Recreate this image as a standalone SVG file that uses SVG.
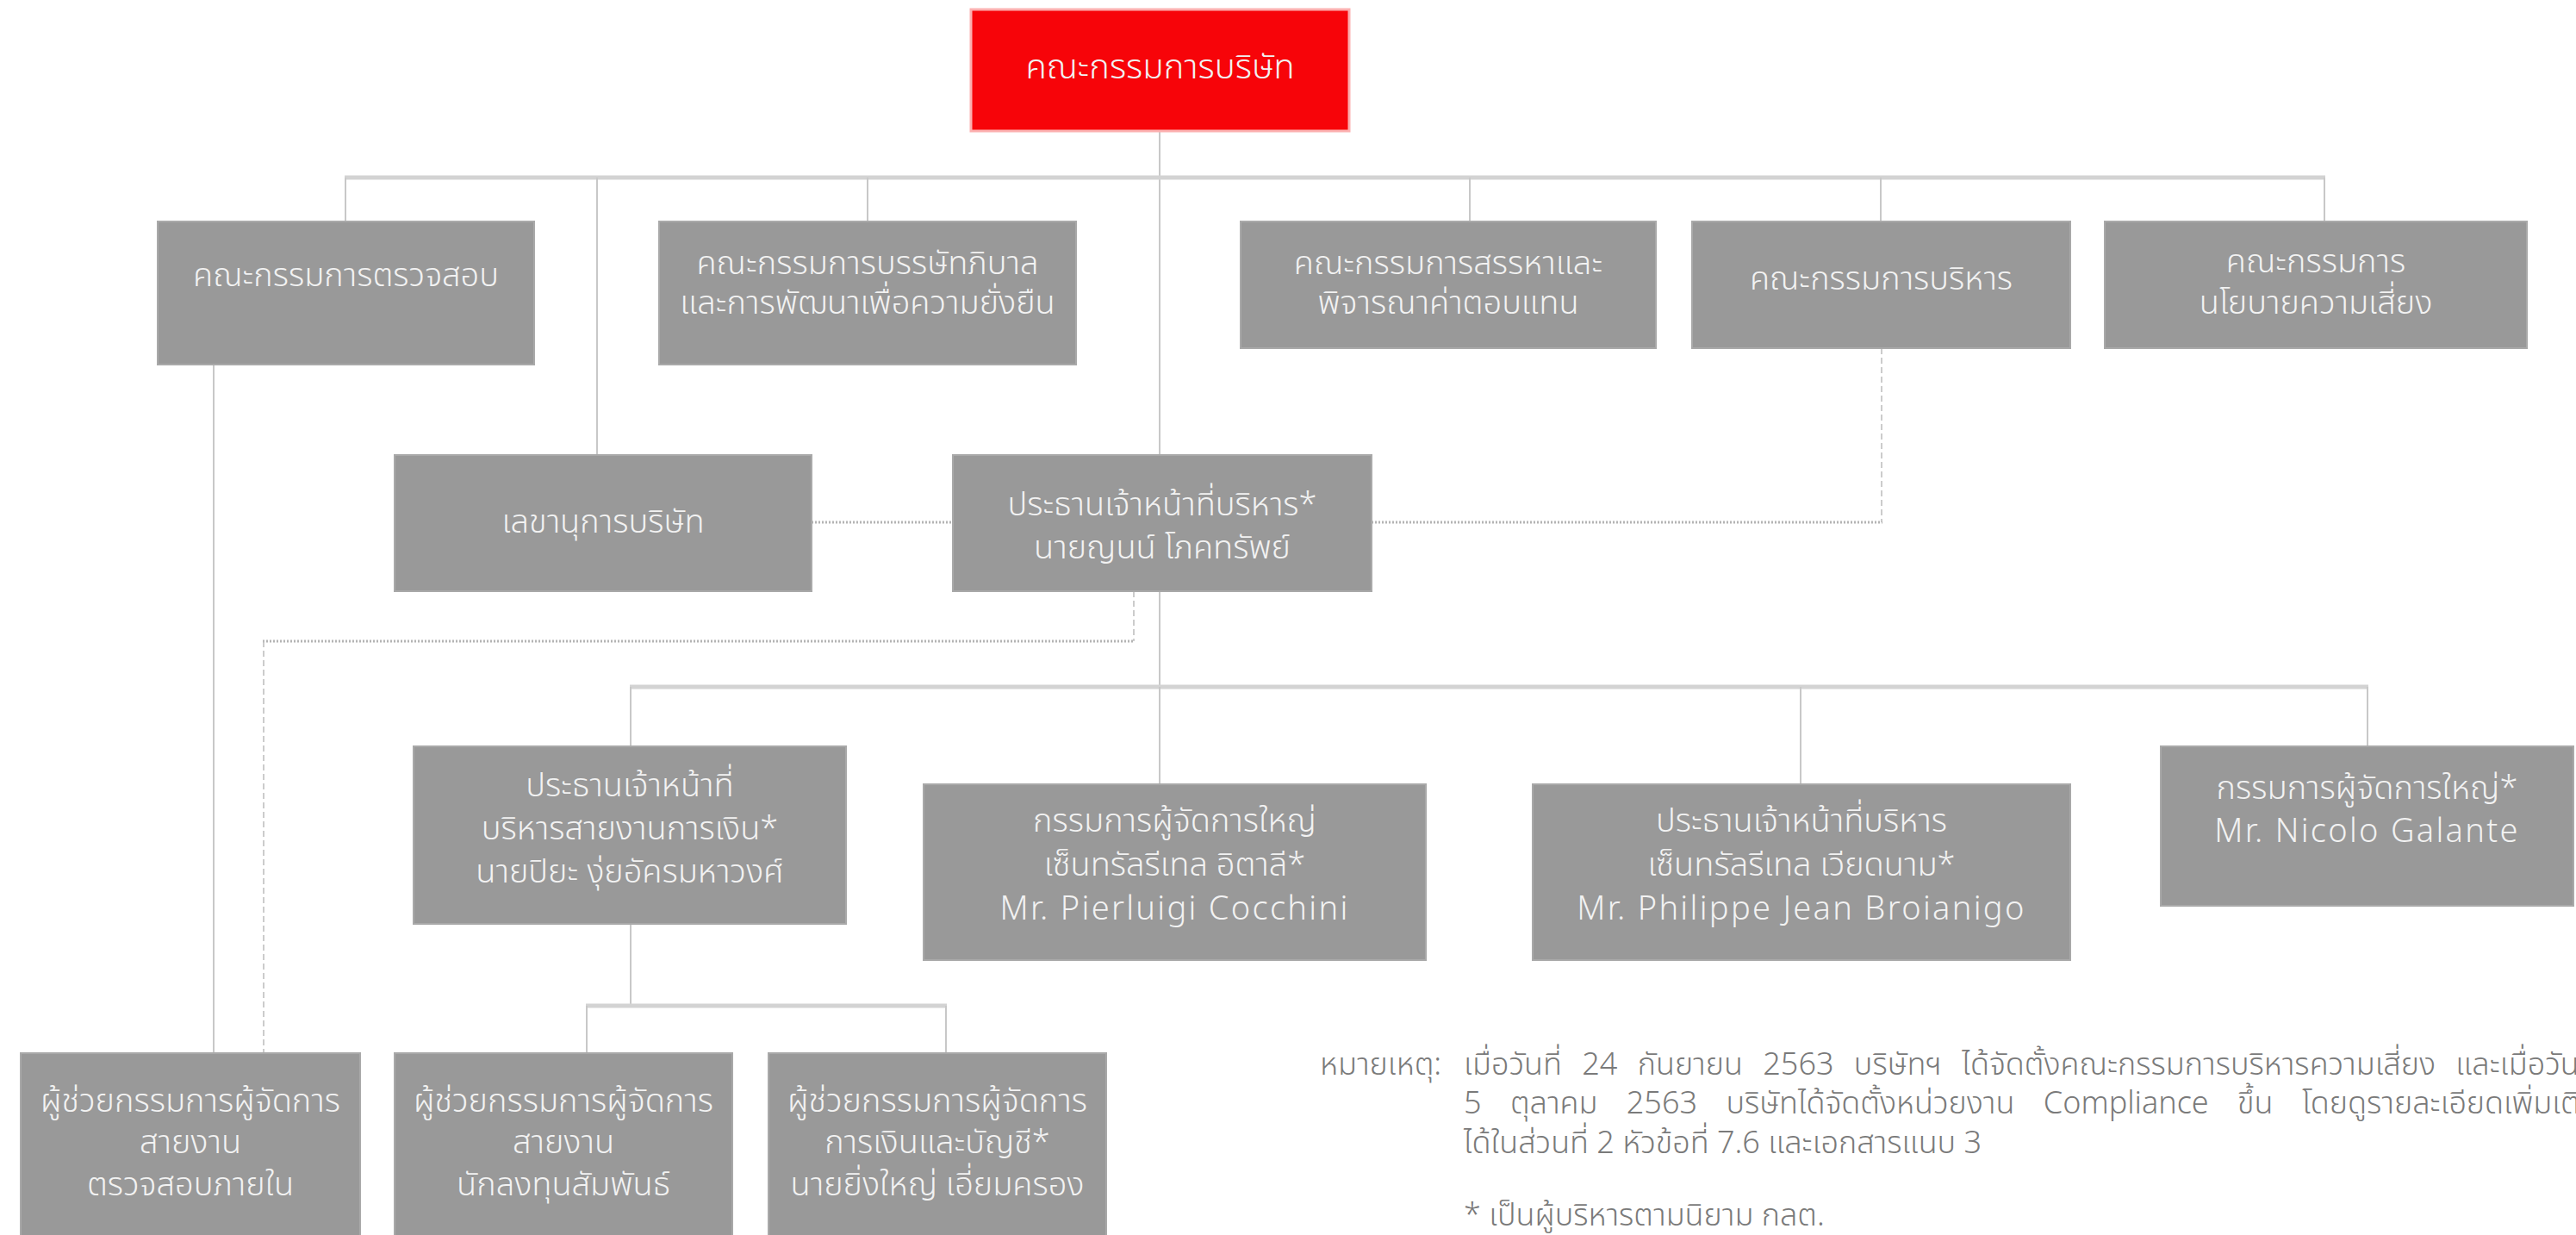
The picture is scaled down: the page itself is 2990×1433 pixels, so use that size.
<svg xmlns="http://www.w3.org/2000/svg" width="2990" height="1433" viewBox="0 0 2990 1433">
<style>
.box{fill:#999999;stroke:#a9a9a9;stroke-width:2}
.red{fill:#f70409;stroke:#fcb0b0;stroke-width:3}
.t{font-family:"Noto Sans Thai","Noto Sans","DejaVu Sans",sans-serif;font-size:38px;fill:#f2f2f2;text-anchor:middle;dominant-baseline:central;font-weight:300}
.lat{letter-spacing:2.3px}
.big{font-size:40px}
.note{font-family:"Noto Sans Thai","Noto Sans","DejaVu Sans",sans-serif;font-size:36px;fill:#7a7a7a;dominant-baseline:central;font-weight:300}
.ln{stroke:#c8c8c8;stroke-width:2;fill:none}
.hl{stroke:#d3d3d3;stroke-width:5;fill:none}
.dot{stroke:#b4b4b4;stroke-width:3;stroke-dasharray:2 2;fill:none}
.dash{stroke:#bcbcbc;stroke-width:1.5;stroke-dasharray:7 4;fill:none}
</style>
<rect width="2990" height="1433" fill="#ffffff"/>
<g id="connectors">
<line class="ln" x1="1346" y1="152" x2="1346" y2="528"/>
<line class="hl" x1="400" y1="206" x2="2699" y2="206"/>
<line class="ln" x1="401" y1="206" x2="401" y2="257"/>
<line class="ln" x1="693" y1="206" x2="693" y2="528"/>
<line class="ln" x1="1007" y1="206" x2="1007" y2="257"/>
<line class="ln" x1="1706" y1="206" x2="1706" y2="257"/>
<line class="ln" x1="2183" y1="206" x2="2183" y2="257"/>
<line class="ln" x1="2698" y1="206" x2="2698" y2="257"/>
<line class="ln" x1="248" y1="423" x2="248" y2="1222"/>
<line class="ln" x1="1346" y1="686" x2="1346" y2="797"/>
<line class="hl" x1="731" y1="797" x2="2749" y2="797"/>
<line class="ln" x1="732" y1="797" x2="732" y2="866"/>
<line class="ln" x1="1346" y1="797" x2="1346" y2="910"/>
<line class="ln" x1="2090" y1="797" x2="2090" y2="910"/>
<line class="ln" x1="2748" y1="797" x2="2748" y2="866"/>
<line class="ln" x1="732" y1="1072" x2="732" y2="1167"/>
<line class="hl" x1="680" y1="1167" x2="1099" y2="1167"/>
<line class="ln" x1="681" y1="1167" x2="681" y2="1222"/>
<line class="ln" x1="1098" y1="1167" x2="1098" y2="1222"/>
<line class="dot" x1="942" y1="606" x2="1106" y2="606"/>
<line class="dash" x1="2184" y1="404" x2="2184" y2="606"/>
<line class="dot" x1="1592" y1="606" x2="2185" y2="606"/>
<line class="dash" x1="1316" y1="686" x2="1316" y2="744"/>
<line class="dot" x1="305" y1="744" x2="1317" y2="744"/>
<line class="dash" x1="306" y1="744" x2="306" y2="1222"/>
</g>
<g id="board">
<rect class="red" x="1127" y="11" width="439" height="141"/>
<text class="t big" x="1346.5" y="79">คณะกรรมการบริษัท</text>
</g>
<g id="audit">
<rect class="box" x="183" y="257" width="437" height="166"/>
<text class="t" x="401.5" y="320">คณะกรรมการตรวจสอบ</text>
</g>
<g id="governance">
<rect class="box" x="765" y="257" width="484" height="166"/>
<text class="t" x="1007" y="306">คณะกรรมการบรรษัทภิบาล</text>
<text class="t" x="1007" y="352">และการพัฒนาเพื่อความยั่งยืน</text>
</g>
<g id="nomination">
<rect class="box" x="1440" y="257" width="482" height="147"/>
<text class="t" x="1681" y="306">คณะกรรมการสรรหาและ</text>
<text class="t" x="1681" y="352">พิจารณาค่าตอบแทน</text>
</g>
<g id="executive">
<rect class="box" x="1964" y="257" width="439" height="147"/>
<text class="t" x="2183.5" y="324">คณะกรรมการบริหาร</text>
</g>
<g id="risk">
<rect class="box" x="2443" y="257" width="490" height="147"/>
<text class="t" x="2688" y="304">คณะกรรมการ</text>
<text class="t" x="2688" y="352">นโยบายความเสี่ยง</text>
</g>
<g id="secretary">
<rect class="box" x="458" y="528" width="484" height="158"/>
<text class="t" x="700" y="606">เลขานุการบริษัท</text>
</g>
<g id="ceo">
<rect class="box" x="1106" y="528" width="486" height="158"/>
<text class="t" x="1349" y="586">ประธานเจ้าหน้าที่บริหาร*</text>
<text class="t" x="1349" y="636">นายญนน์ โภคทรัพย์</text>
</g>
<g id="cfo">
<rect class="box" x="480" y="866" width="502" height="206"/>
<text class="t" x="731" y="912">ประธานเจ้าหน้าที่</text>
<text class="t" x="731" y="962">บริหารสายงานการเงิน*</text>
<text class="t" x="731" y="1012">นายปิยะ งุ่ยอัครมหาวงศ์</text>
</g>
<g id="italy">
<rect class="box" x="1072" y="910" width="583" height="204"/>
<text class="t" x="1363.5" y="953">กรรมการผู้จัดการใหญ่</text>
<text class="t" x="1363.5" y="1004">เซ็นทรัลรีเทล อิตาลี*</text>
<text class="t lat" x="1363.5" y="1055">Mr. Pierluigi Cocchini</text>
</g>
<g id="vietnam">
<rect class="box" x="1779" y="910" width="624" height="204"/>
<text class="t" x="2091" y="953">ประธานเจ้าหน้าที่บริหาร</text>
<text class="t" x="2091" y="1004">เซ็นทรัลรีเทล เวียดนาม*</text>
<text class="t lat" x="2091" y="1055">Mr. Philippe Jean Broianigo</text>
</g>
<g id="nicolo">
<rect class="box" x="2508" y="866" width="479" height="185"/>
<text class="t" x="2747.5" y="915">กรรมการผู้จัดการใหญ่*</text>
<text class="t lat" x="2747.5" y="965">Mr. Nicolo Galante</text>
</g>
<g id="internal-audit">
<rect class="box" x="24" y="1222" width="394" height="220"/>
<text class="t" x="221" y="1278">ผู้ช่วยกรรมการผู้จัดการ</text>
<text class="t" x="221" y="1326">สายงาน</text>
<text class="t" x="221" y="1375">ตรวจสอบภายใน</text>
</g>
<g id="investor-relations">
<rect class="box" x="458" y="1222" width="392" height="220"/>
<text class="t" x="654" y="1278">ผู้ช่วยกรรมการผู้จัดการ</text>
<text class="t" x="654" y="1326">สายงาน</text>
<text class="t" x="654" y="1375">นักลงทุนสัมพันธ์</text>
</g>
<g id="finance">
<rect class="box" x="892" y="1222" width="392" height="220"/>
<text class="t" x="1088" y="1278">ผู้ช่วยกรรมการผู้จัดการ</text>
<text class="t" x="1088" y="1326">การเงินและบัญชี*</text>
<text class="t" x="1088" y="1375">นายยิ่งใหญ่ เอี่ยมครอง</text>
</g>
<g id="note">
<text class="note" x="1532" y="1236">หมายเหตุ:</text>
<text class="note" x="1699" y="1236" word-spacing="14">เมื่อวันที่ 24 กันยายน 2563 บริษัทฯ ได้จัดตั้งคณะกรรมการบริหารความเสี่ยง และเมื่อวันที่</text>
<text class="note" x="1699" y="1281" word-spacing="24">5 ตุลาคม 2563 บริษัทได้จัดตั้งหน่วยงาน Compliance ขึ้น โดยดูรายละเอียดเพิ่มเติม</text>
<text class="note" x="1699" y="1327">ได้ในส่วนที่ 2 หัวข้อที่ 7.6 และเอกสารแนบ 3</text>
<text class="note" x="1699" y="1411">* เป็นผู้บริหารตามนิยาม กลต.</text>
</g>
</svg>
